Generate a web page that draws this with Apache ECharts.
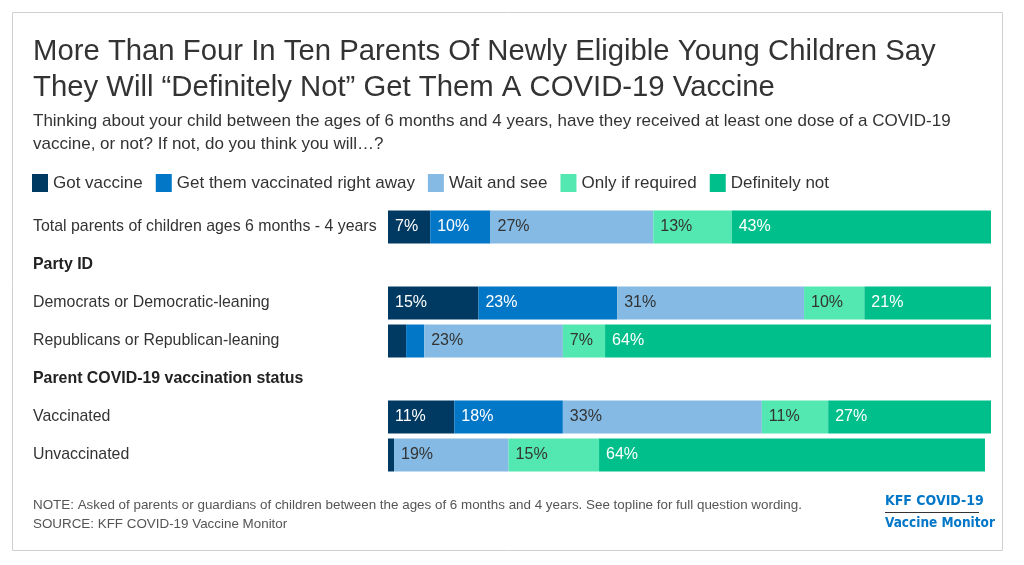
<!DOCTYPE html>
<html>
<head>
<meta charset="utf-8">
<script src="https://cdn.jsdelivr.net/npm/echarts@6/dist/echarts.min.js"></script>
<style>
  html, body { margin: 0; padding: 0; background: #fff; }
  #chart { width: 1024px; height: 565px; }
</style>
</head>
<body>
<div id="chart"></div>
<script>
// rows of the chart, top to bottom (headers have no bar)
var categories = [
    'Total parents of children ages 6 months - 4 years',
    'Party ID',
    'Democrats or Democratic-leaning',
    'Republicans or Republican-leaning',
    'Parent COVID-19 vaccination status',
    'Vaccinated',
    'Unvaccinated'
];
var headerRows = ['Party ID', 'Parent COVID-19 vaccination status'];

var seriesNames = ['Got vaccine', 'Get them vaccinated right away', 'Wait and see', 'Only if required', 'Definitely not'];
var gotVaccine   = [7,  null, 15, 3,  null, 11, 1];
var rightAway    = [10, null, 23, 3,  null, 18, 0];
var waitAndSee   = [27, null, 31, 23, null, 33, 19];
var onlyRequired = [13, null, 10, 7,  null, 11, 15];
var definitelyNot= [43, null, 21, 64, null, 27, 64];

var colorArray = ['#003a63', '#0277c8', '#84bae3', '#53e8b1', '#00bf8a'];
var labelColors = ['#ffffff', '#ffffff', '#333333', '#333333', '#ffffff'];

var FONT = 'Arial, "Liberation Sans", sans-serif';
var LOGO_FONT = '"DejaVu Sans Condensed", "Roboto Condensed", sans-serif';

function makeSeries( name, data, idx ) {
    return {
        name: name,
        type: 'bar',
        stack: 'total',
        barWidth: 33,
        data: data,
        itemStyle: { color: colorArray[idx] },
        label: {
            show: true,
            position: 'insideLeft',
            distance: 7,
            fontFamily: FONT,
            fontSize: 16,
            color: labelColors[idx],
            formatter: function ( p ) {
                return p.value >= 5 ? p.value + '%' : '';
            }
        }
    };
}

var myChart = echarts.init(document.getElementById('chart')),
    option = {
        animation: false,
        backgroundColor: '#fff',
        color: colorArray,
        title: [
            {
                text: 'More Than Four In Ten Parents Of Newly Eligible Young Children Say\nThey Will \u201cDefinitely Not\u201d Get Them A COVID-19 Vaccine',
                left: 33,
                top: 34,
                padding: 0,
                textStyle: { fontFamily: FONT, fontSize: 29.3, fontWeight: 'normal', color: '#333', lineHeight: 36 }
            },
            {
                text: 'Thinking about your child between the ages of 6 months and 4 years, have they received at least one dose of a COVID-19\nvaccine, or not? If not, do you think you will\u2026?',
                left: 33,
                top: 110,
                padding: 0,
                textStyle: { fontFamily: FONT, fontSize: 17, fontWeight: 'normal', color: '#333', lineHeight: 23 }
            }
        ],
        legend: {
            left: 32,
            top: 174,
            padding: 0,
            itemWidth: 16,
            itemHeight: 18,
            itemGap: 13,
            icon: 'rect',
            selectedMode: false,
            textStyle: { fontFamily: FONT, fontSize: 17, color: '#333' },
            data: seriesNames
        },
        grid: {
            left: 388,
            right: 33,
            top: 208,
            height: 266,
            containLabel: false
        },
        xAxis: {
            type: 'value',
            min: 0,
            max: 100,
            show: false
        },
        yAxis: {
            type: 'category',
            inverse: true,
            data: categories,
            axisLine: { show: false },
            axisTick: { show: false },
            splitLine: { show: false },
            axisLabel: {
                interval: 0,
                align: 'left',
                margin: 355,
                fontFamily: FONT,
                fontSize: 15.9,
                color: '#333',
                formatter: function ( v ) {
                    return headerRows.indexOf(v) >= 0 ? '{h|' + v + '}' : v;
                },
                rich: {
                    h: { fontFamily: FONT, fontSize: 15.9, fontWeight: 'bold', color: '#222' }
                }
            }
        },
        graphic: [
            {
                type: 'rect',
                shape: { x: 12.5, y: 12.5, width: 990, height: 538 },
                style: { fill: 'none', stroke: '#cfcfcf', lineWidth: 1 },
                z: -1
            },
            {
                type: 'text',
                left: 33,
                top: 496,
                style: {
                    text: 'NOTE: Asked of parents or guardians of children between the ages of 6 months and 4 years. See topline for full question wording.\nSOURCE: KFF COVID-19 Vaccine Monitor',
                    fontFamily: FONT, fontSize: 13.4, lineHeight: 19, fill: '#555'
                }
            },
            {
                type: 'text',
                left: 885,
                top: 494,
                style: {
                    text: 'KFF COVID-19',
                    fontFamily: LOGO_FONT,
                    fontWeight: 'bold', fontSize: 14, fill: '#0277c8'
                }
            },
            {
                type: 'line',
                shape: { x1: 885, y1: 512.5, x2: 979, y2: 512.5 },
                style: { stroke: '#333', lineWidth: 1 }
            },
            {
                type: 'text',
                left: 885,
                top: 516,
                style: {
                    text: 'Vaccine Monitor',
                    fontFamily: LOGO_FONT,
                    fontWeight: 'bold', fontSize: 13.5, fill: '#0277c8'
                }
            }
        ],
        series: [
            makeSeries(seriesNames[0], gotVaccine, 0),
            makeSeries(seriesNames[1], rightAway, 1),
            makeSeries(seriesNames[2], waitAndSee, 2),
            makeSeries(seriesNames[3], onlyRequired, 3),
            makeSeries(seriesNames[4], definitelyNot, 4)
        ]
    };

myChart.setOption(option);
</script>
</body>
</html>
